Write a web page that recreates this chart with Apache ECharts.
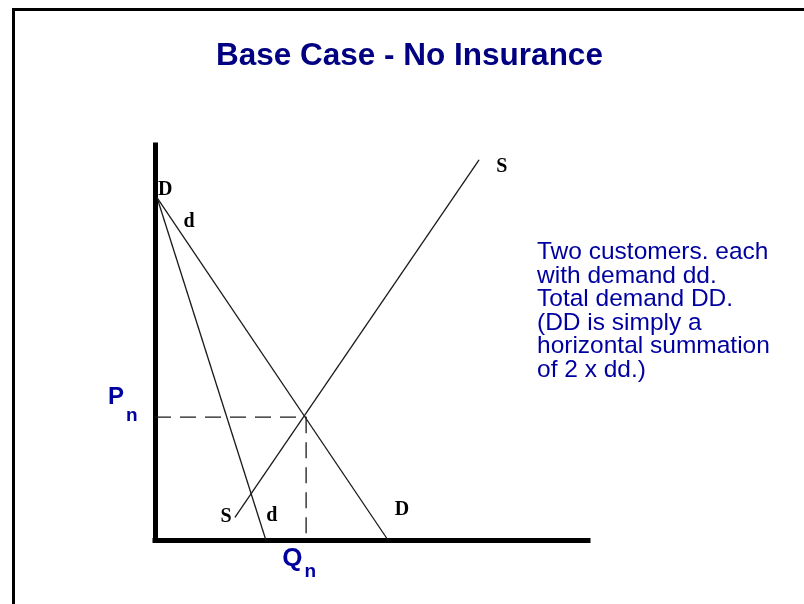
<!DOCTYPE html>
<html>
    <head>
        <meta charset="utf-8" />
        <title>Base Case - No Insurance</title>
        <script src="https://cdn.jsdelivr.net/npm/echarts@6/dist/echarts.min.js"></script>
        <style>
            html, body { margin: 0; padding: 0; background: #fff; }
        </style>
    </head>
    <body>
        <div id="main" style="width: 804px;height: 604px;"></div>
        <script type="text/javascript">
            // price/quantity units, 0..100 on both axes
            const demandTop = [0.5, 86.6];       // where dd and DD meet the price axis
            const ddQty = 25.6;                  // dd hits the quantity axis
            const DDQty = 53.8;                  // DD hits the quantity axis
            const supplyLow = [18.5, 5.8];
            const supplyHigh = [74.8, 96.2];
            const equilibrium = [34.9, 31.1];    // Qn, Pn

            const noteLines = [
                'Two customers. each',
                'with demand dd.',
                'Total demand DD.',
                '(DD is simply a',
                'horizontal summation',
                'of 2 x dd.)'
            ];

            const LINE_COLOR = '#1a1a1a';
            const BLUE = '#0000a0';

            const tag = (text, offset) => ({
                show: true,
                position: 'inside',
                offset: offset,
                formatter: text,
                color: '#000',
                fontFamily: 'Liberation Serif',
                fontWeight: 'bold',
                fontSize: 20
            });

            const curve = (name, points, labels) => ({
                type: 'line',
                name: name,
                data: points.map((p, i) => ({ value: p, label: labels[i] })),
                symbol: 'circle',
                symbolSize: 1,
                itemStyle: { color: LINE_COLOR },
                lineStyle: { color: LINE_COLOR, width: 1.3 },
                silent: true,
                z: 3
            });

            const myChart = echarts.init(document.getElementById('main'));

            const option = {
                animation: false,
                backgroundColor: '#fff',
                title: {
                    text: 'Base Case - No Insurance',
                    left: 211,
                    top: 35,
                    textStyle: {
                        color: '#000080',
                        fontFamily: 'Liberation Sans',
                        fontWeight: 'bold',
                        fontSize: 31.5
                    }
                },
                grid: { left: 155, right: 216, top: 145, bottom: 64 },
                xAxis: {
                    type: 'value',
                    min: 0,
                    max: 100,
                    splitLine: { show: false },
                    axisTick: { show: false },
                    axisLabel: { show: false },
                    axisLine: { lineStyle: { color: '#000', width: 5, cap: 'square' } }
                },
                yAxis: {
                    type: 'value',
                    min: 0,
                    max: 100,
                    splitLine: { show: false },
                    axisTick: { show: false },
                    axisLabel: { show: false },
                    axisLine: { lineStyle: { color: '#000', width: 5, cap: 'square' } }
                },
                graphic: [
                    {
                        type: 'rect',
                        shape: { x: 13.5, y: 9.5, width: 900, height: 700 },
                        style: { fill: 'none', stroke: '#000', lineWidth: 3 }
                    },
                    {
                        type: 'text',
                        left: 537,
                        top: 240,
                        style: {
                            text: noteLines.join('\n'),
                            fill: BLUE,
                            fontFamily: 'Liberation Sans',
                            fontSize: 24.5,
                            lineHeight: 23.5
                        }
                    }
                ],
                series: [
                    curve('dd', [demandTop, [ddQty, 0]], [tag('d', [32, 24]), tag('d', [6, -24])]),
                    curve('DD', [demandTop, [DDQty, 0]], [tag('D', [8, -8]), tag('D', [14, -30])]),
                    curve('SS', [supplyLow, supplyHigh], [tag('S', [-9, 0]), tag('S', [23, 7])]),
                    {
                        type: 'line',
                        name: 'Pn',
                        data: [
                            {
                                value: [0, equilibrium[1]],
                                label: {
                                    show: true,
                                    position: 'left',
                                    distance: 17,
                                    offset: [0, -12],
                                    formatter: '{p|P}{n|n}',
                                    rich: {
                                        p: { fontFamily: 'Liberation Sans', fontWeight: 'bold', fontSize: 24, color: BLUE, lineHeight: 24, verticalAlign: 'top' },
                                        n: { fontFamily: 'Liberation Sans', fontWeight: 'bold', fontSize: 19, color: BLUE, lineHeight: 40, verticalAlign: 'bottom', padding: [0, 0, 0, 2] }
                                    }
                                }
                            },
                            { value: equilibrium }
                        ],
                        symbol: 'circle',
                        symbolSize: 1,
                        itemStyle: { color: LINE_COLOR },
                        lineStyle: { color: LINE_COLOR, width: 1.3, type: [16, 9] },
                        silent: true,
                        z: 2
                    },
                    {
                        type: 'line',
                        name: 'Qn',
                        data: [
                            { value: equilibrium },
                            {
                                value: [equilibrium[0], 0],
                                label: {
                                    show: true,
                                    position: 'bottom',
                                    distance: 4,
                                    offset: [-7, 1],
                                    formatter: '{q|Q}{n|n}',
                                    rich: {
                                        q: { fontFamily: 'Liberation Sans', fontWeight: 'bold', fontSize: 26, color: BLUE, lineHeight: 26, verticalAlign: 'top' },
                                        n: { fontFamily: 'Liberation Sans', fontWeight: 'bold', fontSize: 19, color: BLUE, lineHeight: 36, verticalAlign: 'bottom', padding: [0, 0, 0, 2] }
                                    }
                                }
                            }
                        ],
                        symbol: 'circle',
                        symbolSize: 1,
                        itemStyle: { color: LINE_COLOR },
                        lineStyle: { color: LINE_COLOR, width: 1.3, type: [16, 9] },
                        silent: true,
                        z: 2
                    }
                ]
            };
            myChart.setOption(option);
        </script>
    </body>
</html>
